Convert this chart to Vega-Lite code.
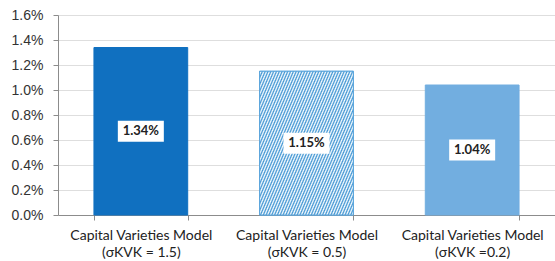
{
  "$schema": "https://vega.github.io/schema/vega-lite/v6.json",
  "width": 497,
  "height": 200,
  "autosize": "none",
  "padding": {"left": 58, "top": 15, "right": 0, "bottom": 46},
  "background": "white",
  "config": {"view": {"stroke": null}},
  "data": {"values": [
    {"model": "Capital Varieties Model|(σKVK = 1.5)", "value": 0.0134},
    {"model": "Capital Varieties Model|(σKVK = 0.5)", "value": 0.0115},
    {"model": "Capital Varieties  Model|(σKVK =0.2)", "value": 0.0104}
  ]},
  "encoding": {
    "x": {
      "field": "model", "type": "nominal", "sort": null,
      "scale": {"paddingInner": 0.434, "paddingOuter": 0.217},
      "axis": {
        "title": null, "labelAngle": 0, "labelExpr": "split(datum.label, '|')",
        "labelFont": "Lato", "labelFontSize": 14, "labelColor": "#222222",
        "labelLineHeight": 17, "labelPadding": 8,
        "tickBand": "extent", "tickSize": 5, "tickColor": "#8c8c8c",
        "domainColor": "#8c8c8c", "grid": false
      }
    }
  },
  "layer": [
    {
      "encoding": {
        "y": {
          "field": "value", "type": "quantitative",
          "scale": {"domain": [0, 0.016], "nice": false},
          "axis": {
            "title": null, "format": ".1%", "values": [0, 0.002, 0.004, 0.006, 0.008, 0.01, 0.012, 0.014, 0.016],
            "labelFont": "Liberation Sans", "labelFontSize": 14, "labelColor": "#333333",
            "labelPadding": 10, "tickSize": 5, "tickColor": "#8c8c8c",
            "domainColor": "#8c8c8c", "gridColor": "#dedede"
          }
        }
      },
      "layer": [
        {
          "mark": {"type": "bar", "strokeWidth": 1},
          "encoding": {
            "color": {"field": "model", "type": "nominal", "sort": null, "legend": null,
              "scale": {"range": ["#1070c0", "#97c8ec", "#72aee0"]}},
            "stroke": {"field": "model", "type": "nominal", "sort": null, "legend": null,
              "scale": {"range": ["#1070c0", "#5aa5dc", "#72aee0"]}}
          }
        },
        {
          "transform": [{"filter": "datum.value == 0.0115"}],
          "mark": {"type": "bar", "stroke": "#5aa5dc", "strokeWidth": 1, "fill": {
            "gradient": "linear", "x1": 0, "y1": 0, "x2": 1.266, "y2": 0.826,
            "stops": [
              {"offset": 0, "color": "#3f95d3"}, {"offset": 0.0083, "color": "#ffffff"}, {"offset": 0.0167, "color": "#3f95d3"}, {"offset": 0.025, "color": "#ffffff"}, {"offset": 0.0333, "color": "#3f95d3"}, {"offset": 0.0417, "color": "#ffffff"}, {"offset": 0.05, "color": "#3f95d3"}, {"offset": 0.0583, "color": "#ffffff"}, {"offset": 0.0667, "color": "#3f95d3"}, {"offset": 0.075, "color": "#ffffff"}, {"offset": 0.0833, "color": "#3f95d3"}, {"offset": 0.0917, "color": "#ffffff"},
              {"offset": 0.1, "color": "#3f95d3"}, {"offset": 0.1083, "color": "#ffffff"}, {"offset": 0.1167, "color": "#3f95d3"}, {"offset": 0.125, "color": "#ffffff"}, {"offset": 0.1333, "color": "#3f95d3"}, {"offset": 0.1417, "color": "#ffffff"}, {"offset": 0.15, "color": "#3f95d3"}, {"offset": 0.1583, "color": "#ffffff"}, {"offset": 0.1667, "color": "#3f95d3"}, {"offset": 0.175, "color": "#ffffff"}, {"offset": 0.1833, "color": "#3f95d3"}, {"offset": 0.1917, "color": "#ffffff"},
              {"offset": 0.2, "color": "#3f95d3"}, {"offset": 0.2083, "color": "#ffffff"}, {"offset": 0.2167, "color": "#3f95d3"}, {"offset": 0.225, "color": "#ffffff"}, {"offset": 0.2333, "color": "#3f95d3"}, {"offset": 0.2417, "color": "#ffffff"}, {"offset": 0.25, "color": "#3f95d3"}, {"offset": 0.2583, "color": "#ffffff"}, {"offset": 0.2667, "color": "#3f95d3"}, {"offset": 0.275, "color": "#ffffff"}, {"offset": 0.2833, "color": "#3f95d3"}, {"offset": 0.2917, "color": "#ffffff"},
              {"offset": 0.3, "color": "#3f95d3"}, {"offset": 0.3083, "color": "#ffffff"}, {"offset": 0.3167, "color": "#3f95d3"}, {"offset": 0.325, "color": "#ffffff"}, {"offset": 0.3333, "color": "#3f95d3"}, {"offset": 0.3417, "color": "#ffffff"}, {"offset": 0.35, "color": "#3f95d3"}, {"offset": 0.3583, "color": "#ffffff"}, {"offset": 0.3667, "color": "#3f95d3"}, {"offset": 0.375, "color": "#ffffff"}, {"offset": 0.3833, "color": "#3f95d3"}, {"offset": 0.3917, "color": "#ffffff"},
              {"offset": 0.4, "color": "#3f95d3"}, {"offset": 0.4083, "color": "#ffffff"}, {"offset": 0.4167, "color": "#3f95d3"}, {"offset": 0.425, "color": "#ffffff"}, {"offset": 0.4333, "color": "#3f95d3"}, {"offset": 0.4417, "color": "#ffffff"}, {"offset": 0.45, "color": "#3f95d3"}, {"offset": 0.4583, "color": "#ffffff"}, {"offset": 0.4667, "color": "#3f95d3"}, {"offset": 0.475, "color": "#ffffff"}, {"offset": 0.4833, "color": "#3f95d3"}, {"offset": 0.4917, "color": "#ffffff"},
              {"offset": 0.5, "color": "#3f95d3"}, {"offset": 0.5083, "color": "#ffffff"}, {"offset": 0.5167, "color": "#3f95d3"}, {"offset": 0.525, "color": "#ffffff"}, {"offset": 0.5333, "color": "#3f95d3"}, {"offset": 0.5417, "color": "#ffffff"}, {"offset": 0.55, "color": "#3f95d3"}, {"offset": 0.5583, "color": "#ffffff"}, {"offset": 0.5667, "color": "#3f95d3"}, {"offset": 0.575, "color": "#ffffff"}, {"offset": 0.5833, "color": "#3f95d3"}, {"offset": 0.5917, "color": "#ffffff"},
              {"offset": 0.6, "color": "#3f95d3"}, {"offset": 0.6083, "color": "#ffffff"}, {"offset": 0.6167, "color": "#3f95d3"}, {"offset": 0.625, "color": "#ffffff"}, {"offset": 0.6333, "color": "#3f95d3"}, {"offset": 0.6417, "color": "#ffffff"}, {"offset": 0.65, "color": "#3f95d3"}, {"offset": 0.6583, "color": "#ffffff"}, {"offset": 0.6667, "color": "#3f95d3"}, {"offset": 0.675, "color": "#ffffff"}, {"offset": 0.6833, "color": "#3f95d3"}, {"offset": 0.6917, "color": "#ffffff"},
              {"offset": 0.7, "color": "#3f95d3"}, {"offset": 0.7083, "color": "#ffffff"}, {"offset": 0.7167, "color": "#3f95d3"}, {"offset": 0.725, "color": "#ffffff"}, {"offset": 0.7333, "color": "#3f95d3"}, {"offset": 0.7417, "color": "#ffffff"}, {"offset": 0.75, "color": "#3f95d3"}, {"offset": 0.7583, "color": "#ffffff"}, {"offset": 0.7667, "color": "#3f95d3"}, {"offset": 0.775, "color": "#ffffff"}, {"offset": 0.7833, "color": "#3f95d3"}, {"offset": 0.7917, "color": "#ffffff"},
              {"offset": 0.8, "color": "#3f95d3"}, {"offset": 0.8083, "color": "#ffffff"}, {"offset": 0.8167, "color": "#3f95d3"}, {"offset": 0.825, "color": "#ffffff"}, {"offset": 0.8333, "color": "#3f95d3"}, {"offset": 0.8417, "color": "#ffffff"}, {"offset": 0.85, "color": "#3f95d3"}, {"offset": 0.8583, "color": "#ffffff"}, {"offset": 0.8667, "color": "#3f95d3"}, {"offset": 0.875, "color": "#ffffff"}, {"offset": 0.8833, "color": "#3f95d3"}, {"offset": 0.8917, "color": "#ffffff"},
              {"offset": 0.9, "color": "#3f95d3"}, {"offset": 0.9083, "color": "#ffffff"}, {"offset": 0.9167, "color": "#3f95d3"}, {"offset": 0.925, "color": "#ffffff"}, {"offset": 0.9333, "color": "#3f95d3"}, {"offset": 0.9417, "color": "#ffffff"}, {"offset": 0.95, "color": "#3f95d3"}, {"offset": 0.9583, "color": "#ffffff"}, {"offset": 0.9667, "color": "#3f95d3"}, {"offset": 0.975, "color": "#ffffff"}, {"offset": 0.9833, "color": "#3f95d3"}, {"offset": 0.9917, "color": "#ffffff"},
              {"offset": 1, "color": "#3f95d3"}
            ]
          }}
        }
      ]
    },
    {
      "encoding": {
        "y": {"field": "value", "type": "quantitative", "scale": {"domain": [0, 0.032], "nice": false}, "axis": null}
      },
      "layer": [
        {"mark": {"type": "point", "filled": true, "color": "white", "opacity": 1, "shape": "M-1,-0.4565H1V0.4565H-1Z", "size": 2116}},
        {"mark": {"type": "text", "font": "Lato", "fontWeight": "bold", "fontSize": 13, "color": "#222222", "baseline": "middle"},
          "encoding": {"text": {"field": "value", "type": "quantitative", "format": ".2%"}}}
      ]
    }
  ],
  "resolve": {"scale": {"y": "independent"}}
}
